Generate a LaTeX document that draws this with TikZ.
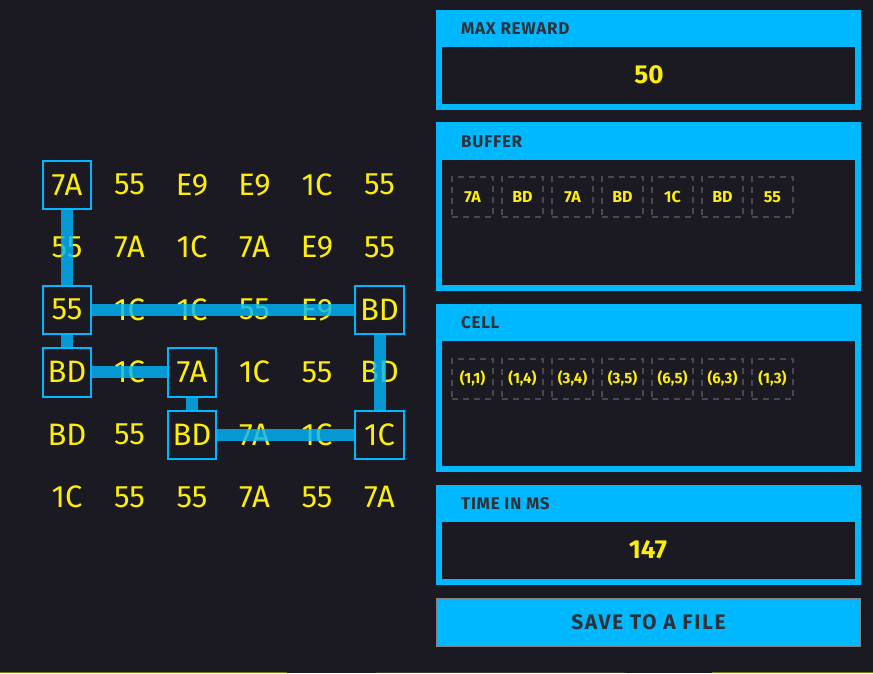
\documentclass[tikz,border=0pt]{standalone}
\usepackage{fontspec}
\setmainfont{Fira Sans}
\definecolor{bgdark}{RGB}{27,26,34}
\definecolor{uicyan}{RGB}{0,184,255}
\definecolor{uiyellow}{RGB}{252,238,10}
\definecolor{uigray}{RGB}{44,50,58}
\definecolor{chipgray}{RGB}{72,72,78}
\definecolor{edgeolive}{RGB}{120,120,30}
\definecolor{edgedark}{RGB}{60,60,42}
\tikzset{
  cell/.style={text=uiyellow, inner sep=0pt, font=\fontsize{31}{33}\selectfont},
  pick/.style={cell, draw=uicyan, fill=bgdark, line width=2pt, minimum size=48.5pt},
  trail/.style={draw=uicyan, draw opacity=0.8, line width=12pt},
  heading/.style={anchor=west, inner sep=0pt, text=uigray, font=\bfseries\fontsize{17}{19}\selectfont\addfontfeatures{LetterSpace=4}},
  readout/.style={inner sep=0pt, text=uiyellow, font=\bfseries\fontsize{26}{28}\selectfont},
  chip/.style={draw=chipgray, dash pattern=on 6pt off 5pt, line width=2pt, minimum width=41pt, minimum height=40pt, inner sep=0pt, text=uiyellow, font=\bfseries\fontsize{16}{18}\selectfont},
  coord/.style={chip, font=\bfseries\fontsize{15}{17}\selectfont},
  button/.style={fill=uicyan, draw=gray, line width=1pt, minimum width=424pt, minimum height=48pt, text=uigray, font=\bfseries\fontsize{21}{23}\selectfont\addfontfeatures{LetterSpace=8}}
}
\begin{document}
\begin{tikzpicture}[x=1pt, y=-1pt]
\useasboundingbox (0,0) rectangle (873,673);
\fill[bgdark] (0,0) rectangle (873,673);
\foreach \row [count=\r] in {{7A,55,E9,E9,1C,55},{55,7A,1C,7A,E9,55},{55,1C,1C,55,E9,BD},{BD,1C,7A,1C,55,BD},{BD,55,BD,7A,1C,1C},{1C,55,55,7A,55,7A}}
  \foreach \v [count=\c] in \row
    \node[cell] (c\c-\r) at ({67+62.5*(\c-1)},{184.8+62.5*(\r-1)}) {\v};
\draw[trail] (c1-1.center) -- (c1-4.center) -- (c3-4.center) -- (c3-5.center) -- (c6-5.center) -- (c6-3.center) -- (c1-3.center);
\foreach \c/\r/\v in {1/1/7A,1/4/BD,3/4/7A,3/5/BD,6/5/1C,6/3/BD,1/3/55}
  \node[pick] (p\c-\r) at (c\c-\r) {\v};
\fill[uicyan] (436,10) rectangle (861,110);
\fill[bgdark] (442,47) rectangle (855,104);
\node[heading] (rewardtitle) at (461,29) {MAX REWARD};
\node[readout] (reward) at (649,75) {50};
\fill[uicyan] (436,122) rectangle (861,291);
\fill[bgdark] (442,160) rectangle (855,285);
\node[heading] (buffertitle) at (461,142) {BUFFER};
\foreach \v [count=\i from 0] in {7A,BD,7A,BD,1C,BD,55}
  \node[chip] (b\i) at ({472.5+50*\i},197) {\v};
\fill[uicyan] (436,304) rectangle (861,472);
\fill[bgdark] (442,341) rectangle (855,466);
\node[heading] (celltitle) at (461,322.5) {CELL};
\foreach \v [count=\i from 0] in {{(1,1)},{(1,4)},{(3,4)},{(3,5)},{(6,5)},{(6,3)},{(1,3)}}
  \node[coord] (k\i) at ({472.5+50*\i},378.5) {\v};
\fill[uicyan] (436,485) rectangle (861,585);
\fill[bgdark] (442,522) rectangle (855,579);
\node[heading] (timetitle) at (461,504) {TIME IN MS};
\node[readout] (time) at (648,550) {147};
\node[button] (save) at (648.5,622) {SAVE TO A FILE};
\fill[edgeolive] (0,671.5) rectangle (287,673);
\fill[edgedark] (376,671.5) rectangle (625,673);
\fill[edgeolive] (712,671.5) rectangle (873,673);
\end{tikzpicture}
\end{document}
